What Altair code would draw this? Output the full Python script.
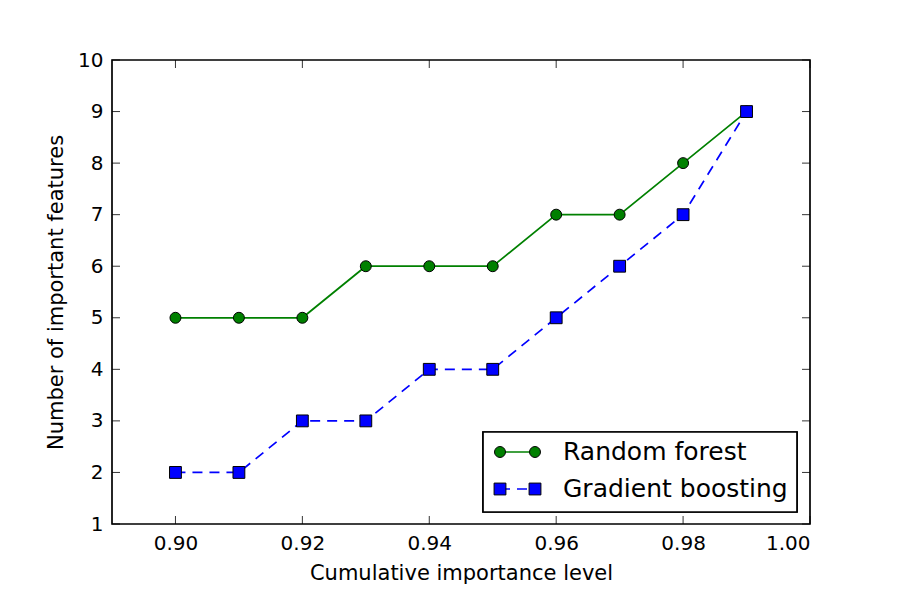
import altair as alt
import pandas as pd

levels = [0.90, 0.91, 0.92, 0.93, 0.94, 0.95, 0.96, 0.97, 0.98, 0.99]
random_forest = [5, 5, 5, 6, 6, 6, 7, 7, 8, 9]
gradient_boosting = [2, 2, 3, 3, 4, 4, 5, 6, 7, 9]
series_names = ["Random forest", "Gradient boosting"]
x_ticks = [0.90, 0.92, 0.94, 0.96, 0.98, 1.00]
y_ticks = [1, 2, 3, 4, 5, 6, 7, 8, 9, 10]

W, H = 698, 464
FONT = "DejaVu Sans"

rf = pd.DataFrame({"level": levels, "n": random_forest})
gb = pd.DataFrame({"level": levels, "n": gradient_boosting})

xscale = alt.Scale(domain=[0.89, 1.0], nice=False, zero=False)
yscale = alt.Scale(domain=[1, 10], nice=False, zero=False)

xaxis = alt.Axis(values=x_ticks, format=".2f", title="Cumulative importance level",
                 grid=False, domain=False, ticks=False, labelPadding=9,
                 labelFontSize=20, titleFontSize=21, labelFont=FONT, titleFont=FONT,
                 labelColor="black", titleColor="black", titleFontWeight="normal",
                 titlePadding=9)
yaxis = alt.Axis(values=y_ticks, format="d", title="Number of important features",
                 grid=False, domain=False, ticks=False, labelPadding=9,
                 labelFontSize=20, titleFontSize=21, labelFont=FONT, titleFont=FONT,
                 labelColor="black", titleColor="black", titleFontWeight="normal",
                 titlePadding=11)

X = alt.X("level:Q", scale=xscale, axis=xaxis)
Y = alt.Y("n:Q", scale=yscale, axis=yaxis)

rf_line = alt.Chart(rf).mark_line(color="#008000", strokeWidth=1.7).encode(x=X, y=Y)
rf_pts = alt.Chart(rf).mark_point(shape="circle", filled=True, fill="#008000", stroke="black",
                                  strokeWidth=1, size=120, opacity=1).encode(x=X, y=Y)
gb_line = alt.Chart(gb).mark_line(color="#0000ff", strokeWidth=1.7, strokeDash=[10, 7]).encode(x=X, y=Y)
gb_pts = alt.Chart(gb).mark_point(shape="square", filled=True, fill="#0000ff", stroke="black",
                                  strokeWidth=1, size=140, opacity=1).encode(x=X, y=Y)

# inward ticks on all four sides
xt = pd.DataFrame({"level": x_ticks})
yt = pd.DataFrame({"n": y_ticks})
tick_style = dict(color="black", strokeWidth=0.8)
tb = alt.Chart(xt).mark_rule(**tick_style).encode(x=X, y=alt.value(H), y2=alt.value(H - 8))
tt = alt.Chart(xt).mark_rule(**tick_style).encode(x=X, y=alt.value(0), y2=alt.value(8))
tl = alt.Chart(yt).mark_rule(**tick_style).encode(y=Y, x=alt.value(0), x2=alt.value(8))
tr = alt.Chart(yt).mark_rule(**tick_style).encode(y=Y, x=alt.value(W), x2=alt.value(W - 8))

# legend
lg = pd.DataFrame({"label": series_names})
frame = alt.Chart(lg).mark_rect(fill="white", stroke="black", strokeWidth=1.7).encode(
    x=alt.value(371), x2=alt.value(685), y=alt.value(372), y2=alt.value(452))
l1 = alt.Chart(lg.iloc[[0]]).mark_rule(color="#008000", strokeWidth=1.7).encode(
    x=alt.value(388), x2=alt.value(423), y=alt.value(392))
l2 = alt.Chart(lg.iloc[[1]]).mark_rule(color="#0000ff", strokeWidth=1.7, strokeDash=[10, 7]).encode(
    x=alt.value(388), x2=alt.value(423), y=alt.value(429))
legend_layers = [frame, l1, l2]
for xv in (388, 423):
    legend_layers.append(alt.Chart(lg.iloc[[0]]).mark_point(shape="circle", filled=True, fill="#008000",
                         stroke="black", strokeWidth=1, size=120, opacity=1).encode(
        x=alt.value(xv), y=alt.value(392)))
    legend_layers.append(alt.Chart(lg.iloc[[1]]).mark_point(shape="square", filled=True, fill="#0000ff",
                         stroke="black", strokeWidth=1, size=140, opacity=1).encode(
        x=alt.value(xv), y=alt.value(429)))
t1 = alt.Chart(lg.iloc[[0]]).mark_text(align="left", baseline="middle", font=FONT, fontSize=25,
                                       color="black").encode(text="label:N", x=alt.value(451), y=alt.value(392))
t2 = alt.Chart(lg.iloc[[1]]).mark_text(align="left", baseline="middle", font=FONT, fontSize=25,
                                       color="black").encode(text="label:N", x=alt.value(451), y=alt.value(429))
legend_layers += [t1, t2]

chart = alt.layer(rf_line, gb_line, rf_pts, gb_pts, tb, tt, tl, tr, *legend_layers).properties(
    width=W, height=H,
    autosize=alt.AutoSizeParams(type="none"),
    padding={"left": 112, "top": 60, "right": 90, "bottom": 76},
    background="white",
).configure_view(stroke="black", strokeWidth=1.7)

chart.save("out.html", embed_options={"renderer": "svg", "actions": False})
